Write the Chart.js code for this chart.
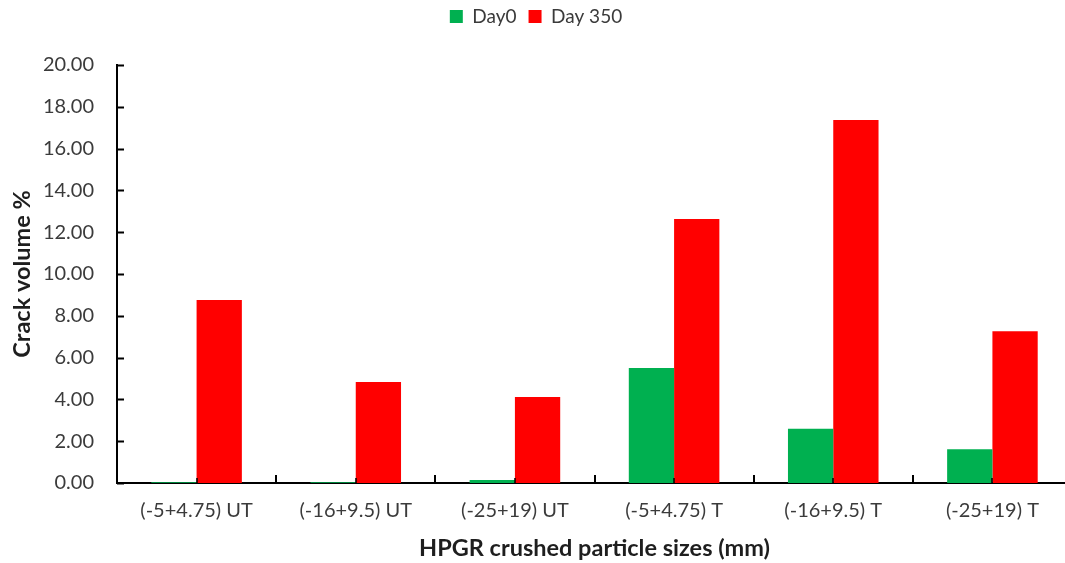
<!DOCTYPE html>
<html>
<head>
<meta charset="utf-8">
<title>Crack volume by HPGR crushed particle size</title>
<script src="https://cdn.jsdelivr.net/npm/chart.js@4/dist/chart.umd.min.js"></script>
<style>
  html, body { margin: 0; padding: 0; background: #ffffff; overflow: hidden; }
  #wrap { width: 1082px; height: 563px; }
  canvas { display: block; }
</style>
</head>
<body>
<div id="wrap"><canvas id="chart" width="1082" height="563"></canvas></div>
<script>
// Particle size classes (UT = untreated, T = treated)
const categories = ['(-5+4.75) UT', '(-16+9.5) UT', '(-25+19) UT', '(-5+4.75) T', '(-16+9.5) T', '(-25+19) T'];
// Crack volume (%) per size class
const day0 = [0.04, 0.04, 0.14, 5.50, 2.60, 1.61];
const day350 = [8.76, 4.83, 4.11, 12.63, 17.37, 7.26];
// Value axis ticks
const yTicks = [0, 2, 4, 6, 8, 10, 12, 14, 16, 18, 20];

const FONT = 'Lato, "Open Sans", "Liberation Sans", sans-serif';
const TEXT = '#3b3b3b';

// Short inward tick marks on both axes
const innerTicks = {
  id: 'innerTicks',
  afterDatasetsDraw(chart) {
    const { ctx, chartArea, scales } = chart;
    const x = scales.x, y = scales.y;
    ctx.save();
    ctx.strokeStyle = '#000000';
    ctx.lineWidth = 2;
    ctx.beginPath();
    yTicks.forEach(v => {
      const py = Math.round(y.getPixelForValue(v)) + 0.5;
      ctx.moveTo(chartArea.left, py);
      ctx.lineTo(chartArea.left + 7, py);
    });
    ctx.stroke();
    const n = categories.length;
    const w = (x.right - x.left) / n;
    ctx.beginPath();
    for (let i = 1; i <= n; i++) {
      const px = Math.round(x.left + i * w);
      ctx.moveTo(px, chartArea.bottom);
      ctx.lineTo(px, chartArea.bottom - 8);
    }
    ctx.stroke();
    ctx.lineWidth = 1.5;
    ctx.beginPath();
    for (let i = 0; i < n; i++) {
      const px = Math.round(x.getPixelForValue(i));
      ctx.moveTo(px, chartArea.bottom);
      ctx.lineTo(px, chartArea.bottom - 5);
    }
    ctx.stroke();
    ctx.restore();
  }
};

new Chart(document.getElementById('chart'), {
  type: 'bar',
  data: {
    labels: categories,
    datasets: [
      { label: 'Day0', data: day0, backgroundColor: '#00B050', borderWidth: 0 },
      { label: 'Day 350', data: day350, backgroundColor: '#FF0000', borderWidth: 0 }
    ]
  },
  options: {
    responsive: false,
    animation: false,
    layout: { padding: { left: 0, right: 10, top: -5, bottom: 0 } },
    datasets: { bar: { categoryPercentage: 0.569, barPercentage: 1.0 } },
    plugins: {
      legend: {
        position: 'top',
        labels: {
          font: { family: FONT, size: 19 },
          color: TEXT,
          boxWidth: 13,
          boxHeight: 13,
          padding: 12
        }
      },
      tooltip: { enabled: false }
    },
    scales: {
      // empty band between legend and plot
      gap: {
        type: 'category',
        position: 'top',
        afterFit(scale) { scale.height = 29; },
        grid: { display: false, drawOnChartArea: false, drawTicks: false },
        border: { display: false },
        ticks: { display: false }
      },
      x: {
        afterFit(scale) { scale.height = 80; },
        grid: { display: false, drawOnChartArea: false, drawTicks: false },
        border: { display: true, color: '#000000', width: 2 },
        ticks: { font: { family: FONT, size: 20 }, color: TEXT, padding: 16, maxRotation: 0, autoSkip: false },
        title: {
          display: true,
          text: 'HPGR crushed particle sizes (mm)',
          font: { family: FONT, size: 23.5, weight: 'bold' },
          color: '#1e1e1e',
          padding: { top: 0, bottom: 0 }
        }
      },
      y: {
        min: 0,
        max: 20,
        afterFit(scale) { scale.width = 117; },
        afterBuildTicks(scale) { scale.ticks = yTicks.map(v => ({ value: v })); },
        grid: { display: false, drawOnChartArea: false, drawTicks: false },
        border: { display: true, color: '#000000', width: 2 },
        ticks: {
          font: { family: FONT, size: 20 },
          color: TEXT,
          padding: 23,
          callback: v => Number(v).toFixed(2)
        },
        title: {
          display: true,
          text: 'Crack volume %',
          font: { family: FONT, size: 23.5, weight: 'bold' },
          color: '#1e1e1e',
          padding: { top: 8, bottom: 0 }
        }
      }
    }
  },
  plugins: [innerTicks]
});
</script>
</body>
</html>
